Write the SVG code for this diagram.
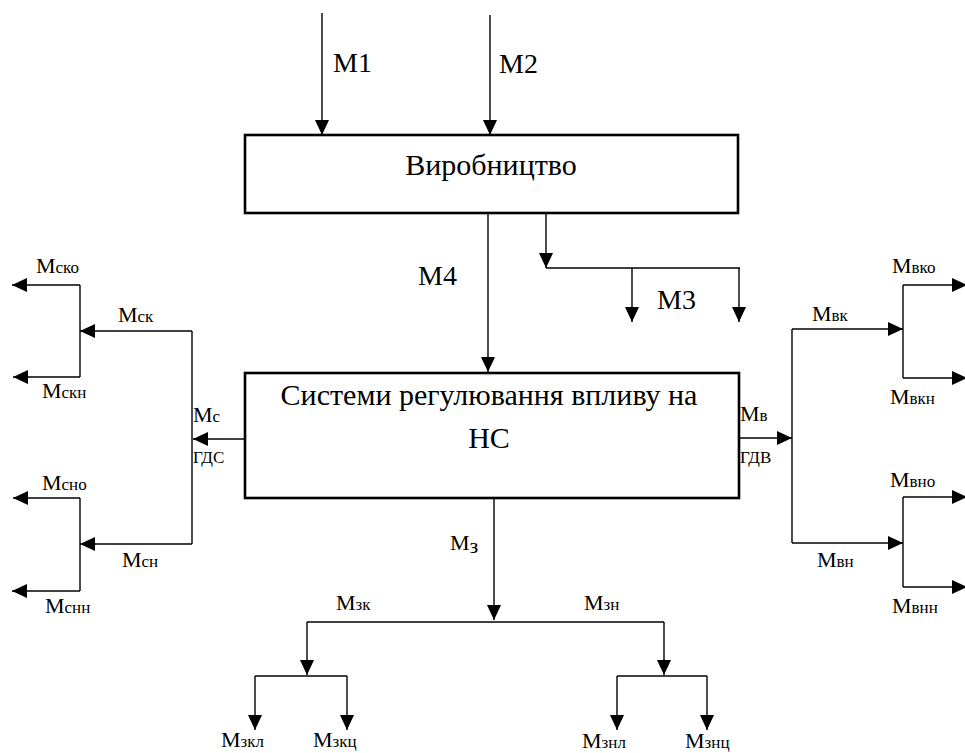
<svg xmlns="http://www.w3.org/2000/svg" width="965" height="753" viewBox="0 0 965 753" font-family="Times New Roman">
<defs>
<marker id="ah" markerUnits="userSpaceOnUse" markerWidth="16" markerHeight="15" refX="15" refY="7" orient="auto">
<path d="M0,0 L15,7 L0,14 z" fill="#000"/>
</marker>
</defs>
<rect width="965" height="753" fill="#fff"/>
<g id="connectors" fill="none" stroke="#000" stroke-width="1.4">
<line x1="322" y1="13" x2="322" y2="135" marker-end="url(#ah)"/>
<line x1="490" y1="15" x2="490" y2="135" marker-end="url(#ah)"/>
<line x1="488" y1="213" x2="488" y2="372" marker-end="url(#ah)"/>
<line x1="546" y1="213" x2="546" y2="268" marker-end="url(#ah)"/>
<polyline points="546,268 740,268"/>
<line x1="632" y1="268" x2="632" y2="322" marker-end="url(#ah)"/>
<line x1="739" y1="268" x2="739" y2="322" marker-end="url(#ah)"/>
<line x1="245" y1="439" x2="193" y2="439" marker-end="url(#ah)"/>
<polyline points="192,331 192,544"/>
<line x1="192" y1="331" x2="80" y2="331" marker-end="url(#ah)"/>
<line x1="192" y1="544" x2="80" y2="544" marker-end="url(#ah)"/>
<polyline points="80,285 80,377"/>
<line x1="80" y1="285" x2="12" y2="285" marker-end="url(#ah)"/>
<line x1="80" y1="377" x2="13" y2="377" marker-end="url(#ah)"/>
<polyline points="80,498 80,591"/>
<line x1="80" y1="498" x2="13" y2="498" marker-end="url(#ah)"/>
<line x1="80" y1="591" x2="12" y2="591" marker-end="url(#ah)"/>
<line x1="739" y1="438" x2="792" y2="438" marker-end="url(#ah)"/>
<polyline points="792,329 792,543"/>
<line x1="792" y1="329" x2="903" y2="329" marker-end="url(#ah)"/>
<line x1="792" y1="543" x2="903" y2="543" marker-end="url(#ah)"/>
<polyline points="903,285 903,378"/>
<line x1="903" y1="285" x2="967" y2="285" marker-end="url(#ah)"/>
<line x1="903" y1="378" x2="967" y2="378" marker-end="url(#ah)"/>
<polyline points="903,497 903,587"/>
<line x1="903" y1="497" x2="967" y2="497" marker-end="url(#ah)"/>
<line x1="903" y1="587" x2="967" y2="587" marker-end="url(#ah)"/>
<line x1="494" y1="498" x2="494" y2="620" marker-end="url(#ah)"/>
<polyline points="307,622 664,622"/>
<line x1="307" y1="622" x2="307" y2="675" marker-end="url(#ah)"/>
<line x1="664" y1="622" x2="664" y2="675" marker-end="url(#ah)"/>
<polyline points="255,676 347,676"/>
<line x1="255" y1="676" x2="255" y2="730" marker-end="url(#ah)"/>
<line x1="347" y1="676" x2="347" y2="730" marker-end="url(#ah)"/>
<polyline points="617,676 707,676"/>
<line x1="617" y1="676" x2="617" y2="730" marker-end="url(#ah)"/>
<line x1="707" y1="676" x2="707" y2="730" marker-end="url(#ah)"/>
</g>
<g id="production">
<rect x="245" y="135" width="493" height="78" fill="#fff" stroke="#000" stroke-width="2.6"/>
<text style="font-family:'Times New Roman'" font-size="30" x="491" y="175" text-anchor="middle">Виробництво</text>
</g>
<g id="regulation">
<rect x="245" y="373" width="494" height="125" fill="#fff" stroke="#000" stroke-width="2.6"/>
<text style="font-family:'Times New Roman'" font-size="30" x="489" y="405" text-anchor="middle">Системи регулювання впливу на</text>
<text style="font-family:'Times New Roman'" font-size="30" x="489" y="448" text-anchor="middle">НС</text>
</g>
<g id="labels" style="font-family:'Times New Roman'">
<text style="font-family:'Times New Roman'" font-size="28" x="333" y="72">М1</text>
<text style="font-family:'Times New Roman'" font-size="28" x="499" y="73">М2</text>
<text style="font-family:'Times New Roman'" font-size="28" x="418" y="285">М4</text>
<text style="font-family:'Times New Roman'" font-size="28" x="657" y="309">М3</text>
<text style="font-family:'Times New Roman'" font-size="22" x="36" y="273">М<tspan font-size="17">ско</tspan></text>
<text style="font-family:'Times New Roman'" font-size="22" x="118" y="322">М<tspan font-size="17">ск</tspan></text>
<text style="font-family:'Times New Roman'" font-size="22" x="42" y="398">М<tspan font-size="17">скн</tspan></text>
<text style="font-family:'Times New Roman'" font-size="22" x="193" y="422">М<tspan font-size="17">с</tspan></text>
<text style="font-family:'Times New Roman'" font-size="17" x="193" y="463">ГДС</text>
<text style="font-family:'Times New Roman'" font-size="22" x="42" y="490">М<tspan font-size="17">сно</tspan></text>
<text style="font-family:'Times New Roman'" font-size="22" x="122" y="567">М<tspan font-size="17">сн</tspan></text>
<text style="font-family:'Times New Roman'" font-size="22" x="45" y="613">М<tspan font-size="17">снн</tspan></text>
<text style="font-family:'Times New Roman'" font-size="22" x="892" y="273">М<tspan font-size="17">вко</tspan></text>
<text style="font-family:'Times New Roman'" font-size="22" x="812" y="321">М<tspan font-size="17">вк</tspan></text>
<text style="font-family:'Times New Roman'" font-size="22" x="890" y="404">М<tspan font-size="17">вкн</tspan></text>
<text style="font-family:'Times New Roman'" font-size="22" x="740" y="421">М<tspan font-size="17">в</tspan></text>
<text style="font-family:'Times New Roman'" font-size="17" x="740" y="463">ГДВ</text>
<text style="font-family:'Times New Roman'" font-size="22" x="890" y="487">М<tspan font-size="17">вно</tspan></text>
<text style="font-family:'Times New Roman'" font-size="22" x="817" y="567">М<tspan font-size="17">вн</tspan></text>
<text style="font-family:'Times New Roman'" font-size="22" x="892" y="613">М<tspan font-size="17">внн</tspan></text>
<text style="font-family:'Times New Roman'" font-size="22" x="450" y="550">М<tspan font-size="22" dy="3">з</tspan></text>
<text style="font-family:'Times New Roman'" font-size="22" x="336" y="610">М<tspan font-size="17">зк</tspan></text>
<text style="font-family:'Times New Roman'" font-size="22" x="584" y="610">М<tspan font-size="17">зн</tspan></text>
<text style="font-family:'Times New Roman'" font-size="22" x="221" y="747">М<tspan font-size="17">зкл</tspan></text>
<text style="font-family:'Times New Roman'" font-size="22" x="313" y="747">М<tspan font-size="17">зкц</tspan></text>
<text style="font-family:'Times New Roman'" font-size="22" x="582" y="748">М<tspan font-size="17">знл</tspan></text>
<text style="font-family:'Times New Roman'" font-size="22" x="685" y="748">М<tspan font-size="17">знц</tspan></text>
</g>
</svg>
